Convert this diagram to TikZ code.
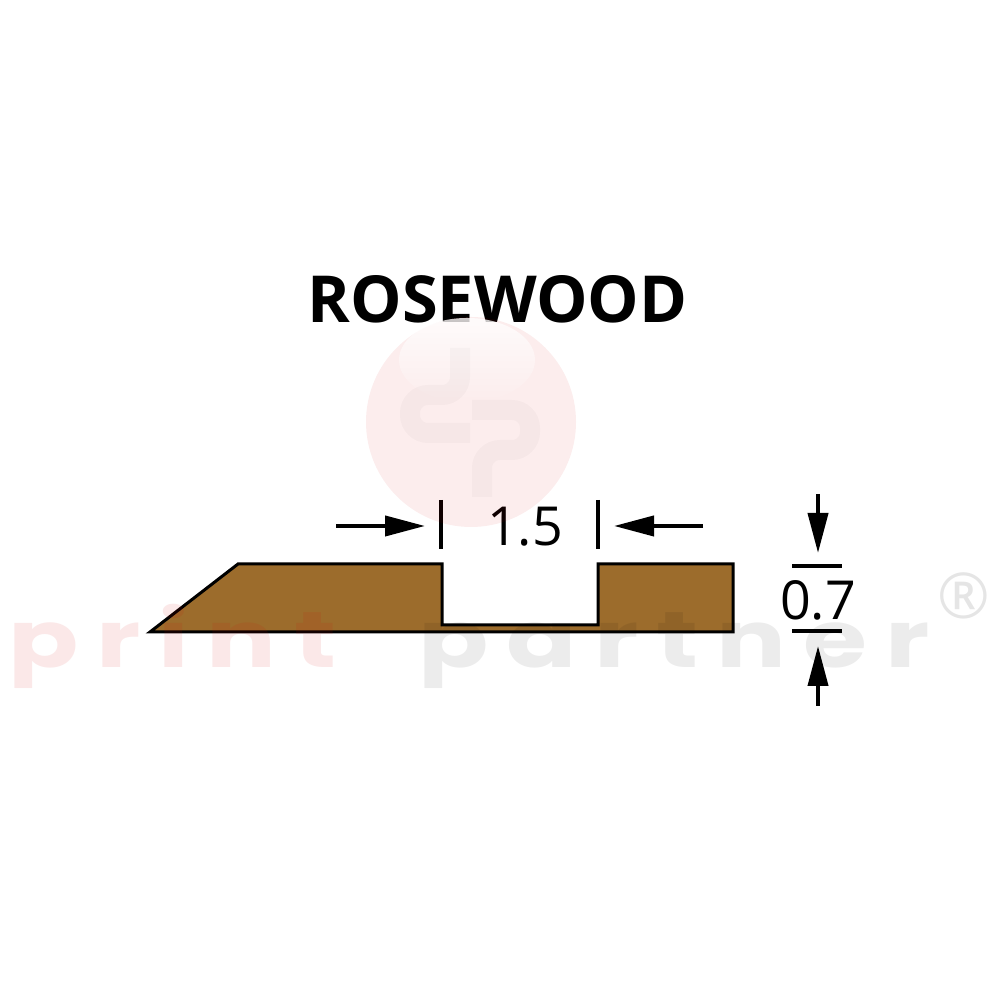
\documentclass[tikz,border=0pt]{standalone}
\usepackage{fontspec}
\usetikzlibrary{arrows.meta,fadings}
\setmainfont{Open Sans}
\newfontfamily\wmfont[LetterSpace=17]{Poppins Bold}
\tikzset{
	dimarrow/.style={line width=0.04cm, -{Triangle[length=0.4cm,width=0.2cm]}},
	dimtick/.style={line width=0.04cm},
	dimtext/.style={font=\fontsize{15.3}{18}\selectfont, inner sep=0pt},
	wmred/.style={text=red!85!black, text opacity=0.09, inner sep=0pt, anchor=base west},
	wmgrey/.style={text=black, text opacity=0.075, inner sep=0pt, anchor=base west},
}

\begin{document}
\begin{tikzpicture}
	%%%%% START %%%%%
	\useasboundingbox (0, 0) rectangle (10, 10);
	\fill[white] (0, 0) rectangle (10, 10);

	\node[inner sep=0pt, font=\fontsize{18.45}{20}\selectfont\bfseries] (title) at (4.975, 7.005) {ROSEWOOD};

	% profile
	\draw[fill={rgb,255:red,156;green,108;blue,44}, line width=0.03cm, miter limit=20]
		(1.5, 3.68) -- (2.38, 4.36) -- (4.42, 4.36) -- (4.42, 3.75) -- (5.98, 3.75)
		-- (5.98, 4.36) -- (7.33, 4.36) -- (7.33, 3.68) -- cycle;

	% width
	\coordinate (gapL) at (4.41, 5.0);
	\coordinate (gapLlow) at (4.41, 4.51);
	\coordinate (gapR) at (5.98, 5.0);
	\coordinate (gapRlow) at (5.98, 4.51);
	\coordinate (arrowLstart) at (3.36, 4.74);
	\coordinate (arrowLend) at (4.25, 4.74);
	\coordinate (arrowRstart) at (7.03, 4.74);
	\coordinate (arrowRend) at (6.14, 4.74);
	\draw[dimtick] (gapL) -- (gapLlow);
	\draw[dimtick] (gapR) -- (gapRlow);
	\draw[dimarrow] (arrowLstart) -- (arrowLend);
	\draw[dimarrow] (arrowRstart) -- (arrowRend);
	\node[dimtext] (width) at (5.25, 4.73) {1.5};

	% thickness
	\coordinate (barTopL) at (7.92, 4.34);
	\coordinate (barTopR) at (8.42, 4.34);
	\coordinate (barLowL) at (7.92, 3.69);
	\coordinate (barLowR) at (8.42, 3.69);
	\coordinate (arrowTstart) at (8.18, 5.06);
	\coordinate (arrowTend) at (8.18, 4.47);
	\coordinate (arrowBstart) at (8.18, 2.94);
	\coordinate (arrowBend) at (8.18, 3.54);
	\draw[dimtick] (barTopL) -- (barTopR);
	\draw[dimtick] (barLowL) -- (barLowR);
	\draw[dimarrow] (arrowTstart) -- (arrowTend);
	\draw[dimarrow] (arrowBstart) -- (arrowBend);
	\node[dimtext] (thick) at (8.18, 3.995) {0.7};

	% watermark
	\fill[red!85!black, opacity=0.07] (4.71, 5.78) circle (1.05);
	\fill[white, opacity=0.8, path fading=south] (4.67, 6.4) ellipse (0.68 and 0.42);
	\draw[black, opacity=0.025, line width=0.2cm, rounded corners=0.18cm]
		(4.6, 6.52) -- (4.6, 6.05) -- (4.1, 6.05) -- (4.1, 5.67) -- (4.7, 5.67);
	\draw[black, opacity=0.025, line width=0.2cm, rounded corners=0.18cm]
		(4.82, 5.03) -- (4.82, 5.5) -- (5.3, 5.5) -- (5.3, 5.9) -- (4.72, 5.9);
	\node[wmred, font=\wmfont\fontsize{22.5}{24}\selectfont] (wmprint) at (0.08, 3.32) {\scalebox{1.31}[1]{print}};
	\node[wmgrey, font=\wmfont\fontsize{22.5}{24}\selectfont] (wmpartner) at (4.18, 3.32) {\scalebox{1.31}[1]{partner}};
	\node[inner sep=0pt, text=black, text opacity=0.1, font=\fontsize{18}{20}\selectfont] (wmreg) at (9.64, 4.04) {®};

	%%%%% END %%%%%
\end{tikzpicture}
\end{document}
